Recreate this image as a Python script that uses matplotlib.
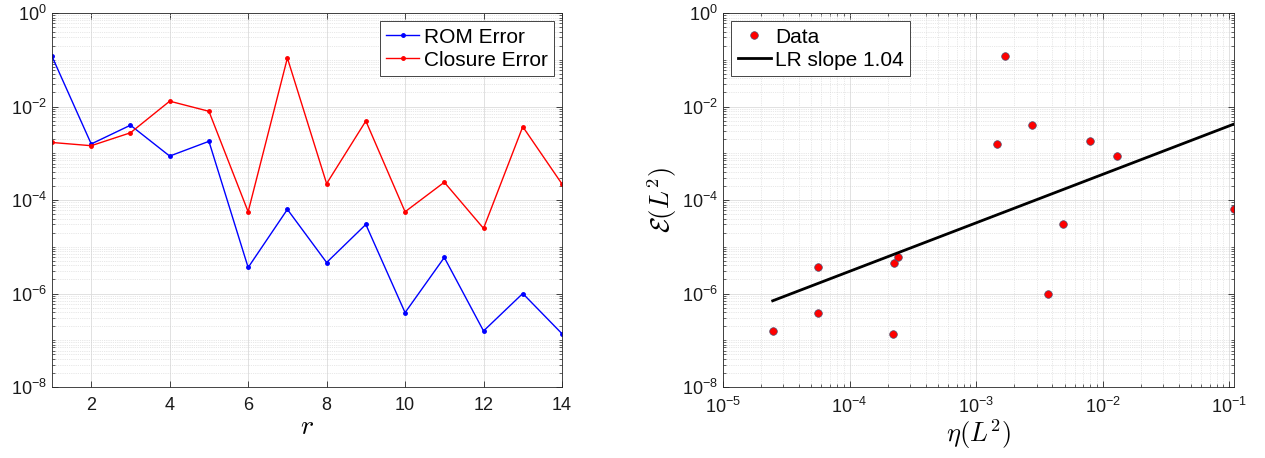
import numpy as np
import matplotlib
matplotlib.use("Agg")
import matplotlib.pyplot as plt
from matplotlib.ticker import LogLocator, FixedLocator, NullFormatter, LogFormatterSciNotation

# data
r = np.arange(1, 15)
rom_error = [1.18e-1, 1.58e-3, 3.98e-3, 8.7e-4, 1.8e-3, 3.6e-6, 6.3e-5,
             4.6e-6, 3.0e-5, 3.9e-7, 5.9e-6, 1.58e-7, 1.0e-6, 1.38e-7]
closure_error = [1.7e-3, 1.45e-3, 2.74e-3, 1.3e-2, 7.9e-3, 5.6e-5, 1.09e-1,
                 2.24e-4, 4.9e-3, 5.6e-5, 2.4e-4, 2.47e-5, 3.7e-3, 2.2e-4]
left_yticks = [1e-8, 1e-6, 1e-4, 1e-2, 1e0]
right_xticks = [1e-5, 1e-4, 1e-3, 1e-2, 1e-1]

plt.rcParams['font.family'] = ['Liberation Sans', 'DejaVu Sans']
plt.rcParams['mathtext.fontset'] = 'cm'

axis_col = '#262626'

fig = plt.figure(figsize=(12.65, 4.58), dpi=100)


def style_axes(ax):
    ax.tick_params(which='both', direction='in', top=True, right=True,
                   color=axis_col, labelsize=13, labelcolor='#1a1a1a')
    ax.tick_params(which='major', length=4, width=0.6)
    ax.tick_params(which='minor', length=2, width=0.5)
    ax.tick_params(axis='x', which='major', pad=7)
    for s in ax.spines.values():
        s.set_color(axis_col)
        s.set_linewidth(0.6)
    ax.grid(True, which='major', color='#dcdcdc', lw=0.6)
    ax.grid(True, which='minor', color='#d2d2d2', lw=0.5, ls=':')
    ax.set_axisbelow(True)


# left: errors vs r
ax1 = fig.add_axes([52 / 1265, 71 / 458, 510 / 1265, 374 / 458])
ax1.semilogy(r, rom_error, color='blue', lw=1.0, marker='.', ms=5, label='ROM Error')
ax1.semilogy(r, closure_error, color='red', lw=1.0, marker='.', ms=5, label='Closure Error')
ax1.set_xlim(1, 14)
ax1.set_ylim(1e-8, 1e0)
ax1.set_xticks(np.arange(2, 15, 2))
ax1.yaxis.set_major_locator(FixedLocator(left_yticks))
ax1.yaxis.set_major_formatter(LogFormatterSciNotation())
ax1.yaxis.set_minor_locator(LogLocator(base=10, subs=np.arange(1, 10), numticks=100))
ax1.yaxis.set_minor_formatter(NullFormatter())
style_axes(ax1)
ax1.set_xlabel(r'$r$', fontsize=20, labelpad=0)
leg1 = ax1.legend(loc='upper right', fontsize=15, fancybox=False, edgecolor=axis_col,
                  framealpha=1, handlelength=1.6, handletextpad=0.2,
                  borderaxespad=0.4, borderpad=0.3, labelspacing=0.2)
leg1.get_frame().set_linewidth(0.6)

# right: ROM error vs closure error with log-log fit
ax2 = fig.add_axes([723 / 1265, 71 / 458, 511 / 1265, 374 / 458])
ax2.loglog(closure_error, rom_error, ls='none', marker='o', ms=5.5, mfc='red',
           mec='#505070', mew=0.5, label='Data')
coef = np.polyfit(np.log10(closure_error), np.log10(rom_error), 1)
xfit = np.sort(closure_error)
ax2.loglog(xfit, 10 ** np.polyval(coef, np.log10(xfit)), color='black', lw=2,
           label='LR slope 1.04')
ax2.set_xlim(1e-5, max(closure_error))
ax2.set_ylim(1e-8, 1e0)
ax2.xaxis.set_major_locator(FixedLocator(right_xticks))
ax2.xaxis.set_major_formatter(LogFormatterSciNotation())
ax2.xaxis.set_minor_locator(LogLocator(base=10, subs=np.arange(2, 10), numticks=100))
ax2.xaxis.set_minor_formatter(NullFormatter())
ax2.yaxis.set_major_locator(FixedLocator(left_yticks))
ax2.yaxis.set_major_formatter(LogFormatterSciNotation())
ax2.yaxis.set_minor_locator(LogLocator(base=10, subs=np.arange(1, 10), numticks=100))
ax2.yaxis.set_minor_formatter(NullFormatter())
style_axes(ax2)
ax2.set_xlabel(r'$\eta(L^2)$', fontsize=19, labelpad=0)
ax2.set_ylabel(r'$\mathcal{E}(L^2)$', fontsize=19, labelpad=2)
leg2 = ax2.legend(loc='upper left', fontsize=15, fancybox=False, edgecolor=axis_col,
                  framealpha=1, handlelength=1.6, handletextpad=0.2,
                  borderaxespad=0.4, borderpad=0.3, labelspacing=0.2)
leg2.get_frame().set_linewidth(0.6)

fig.savefig('out.png', dpi=100)
